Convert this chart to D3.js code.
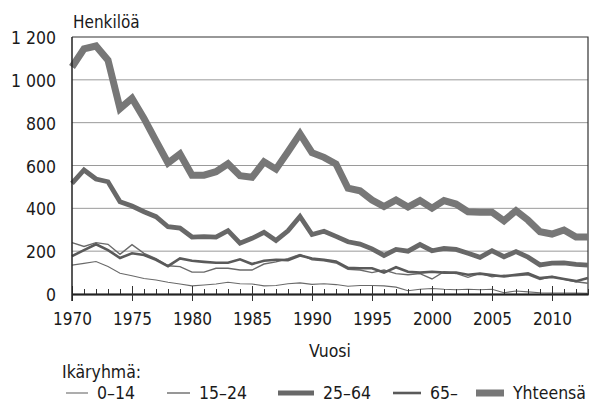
<!DOCTYPE html>
<html lang="fi">
<head>
<meta charset="utf-8">
<script src="https://d3js.org/d3.v7.min.js"></script>
<style>
  body { margin: 0; background: #fff; }
  svg text { font-family: "DejaVu Sans Condensed", "Liberation Sans Narrow", sans-serif; fill: #1a1a1a; }
</style>
</head>
<body>
<script>
// vuodet 1970-2013
var years = d3.range(1970, 2014);

var age0_14 = [135, 143, 152, 128, 97, 85, 72, 65, 55, 47,
               38, 42, 47, 55, 48, 47, 38, 40, 48, 52,
               45, 48, 44, 36, 40, 40, 38, 32, 15, 22,
               26, 22, 20, 22, 20, 22, 6, 14, 10, 6,
               5, 5, 4, 3];
var age15_24 = [240, 222, 240, 232, 185, 230, 190, 165, 132, 128,
                102, 102, 120, 120, 112, 112, 140, 150, 165, 185,
                160, 155, 145, 115, 112, 100, 112, 95, 90, 95,
                70, 104, 96, 78, 96, 80, 88, 85, 90, 68,
                82, 68, 57, 50];
var age25_64 = [517, 579, 537, 524, 431, 411, 384, 361, 314, 308,
                266, 268, 266, 296, 237, 260, 288, 250, 295, 362,
                278, 293, 269, 244, 233, 211, 180, 208, 200, 231,
                202, 213, 208, 190, 171, 202, 174, 198, 172, 136,
                144, 145, 138, 135];
var age65 = [177, 205, 232, 205, 168, 190, 182, 160, 130, 166,
             155, 150, 146, 146, 162, 140, 155, 160, 158, 180,
             166, 160, 152, 122, 120, 120, 100, 125, 104, 100,
             104, 100, 100, 90, 95, 88, 82, 90, 96, 74,
             80, 70, 60, 75];
var total = [1060, 1145, 1158, 1092, 866, 914, 820, 715, 612, 654,
             555, 555, 571, 608, 552, 545, 617, 583, 664, 748,
             660, 638, 607, 494, 482, 439, 408, 439, 406, 436,
             401, 436, 420, 384, 382, 382, 342, 389, 345, 291,
             280, 299, 266, 266];

var yTicks = [0, 200, 400, 600, 800, 1000, 1200];
var xMajor = [1970, 1975, 1980, 1985, 1990, 1995, 2000, 2005, 2010];
var seriesNames = ["0–14", "15–24", "25–64", "65–", "Yhteensä"];

var width = 589, height = 404;
var plotL = 72, plotR = 588, plotT = 37, plotB = 294;

var svg = d3.select("body").append("svg")
    .attr("width", width)
    .attr("height", height);

var x = d3.scaleLinear().domain([1970, 2013]).range([plotL, plotR]);
var y = d3.scaleLinear().domain([0, 1200]).range([plotB, plotT]);

var styles = [
  {w: 1.1, c: "#6a6a6a"},
  {w: 1.4, c: "#6a6a6a"},
  {w: 4.8, c: "#686868"},
  {w: 2.6, c: "#5a5a5a"},
  {w: 7, c: "#777777"}
];
var allSeries = [age0_14, age15_24, age25_64, age65, total];

// gridlines
svg.append("g").selectAll("line")
    .data(yTicks.filter(function(d) { return d > 0 && d < 1200; }))
    .enter().append("line")
    .attr("x1", plotL).attr("x2", plotR)
    .attr("y1", function(d) { return y(d); })
    .attr("y2", function(d) { return y(d); })
    .attr("stroke", "#9a9a9a").attr("stroke-width", 1);

// frame top + right
svg.append("path")
    .attr("d", "M" + plotL + "," + y(1200) + "H" + plotR + "V" + plotB)
    .attr("fill", "none").attr("stroke", "#333").attr("stroke-width", 1.2);

// y labels
var fmt = function(d) { return d >= 1000 ? d3.format(",")(d).replace(",", "\u00a0") : String(d); };
svg.append("g").selectAll("text")
    .data(yTicks)
    .enter().append("text")
    .attr("x", 56)
    .attr("y", function(d) { return y(d) + 7; })
    .attr("text-anchor", "end")
    .attr("font-size", 17.5)
    .text(fmt);

svg.append("text")
    .attr("x", 73).attr("y", 28)
    .attr("font-size", 17)
    .text("Henkilöä");

// series
var line = d3.line()
    .x(function(d, i) { return x(years[i]); })
    .y(function(d) { return y(d); });

svg.append("g").selectAll("path")
    .data(allSeries)
    .enter().append("path")
    .attr("d", line)
    .attr("fill", "none")
    .attr("stroke", function(d, i) { return styles[i].c; })
    .attr("stroke-width", function(d, i) { return styles[i].w; })
    .attr("stroke-linejoin", "miter");

// x axis: minor ticks up, major ticks both ways
var gx = svg.append("g").attr("transform", "translate(0," + plotB + ")");
gx.call(d3.axisBottom(x).tickValues(years).tickSizeInner(-5).tickSizeOuter(0).tickFormat(""));
gx.append("g").call(d3.axisBottom(x).tickValues(xMajor).tickSizeInner(-8).tickSizeOuter(0).tickFormat(""));
var gxl = gx.append("g").call(d3.axisBottom(x).tickValues(xMajor).tickSizeInner(7).tickSizeOuter(0).tickFormat(d3.format("d")));
gx.selectAll(".domain").attr("stroke", "#222").attr("stroke-width", 1.5);
gx.selectAll(".tick line").attr("stroke", "#333");
gxl.selectAll("text").attr("font-size", 17).attr("y", 19).attr("dy", "0.71em")
    .style("font-family", "'DejaVu Sans Condensed', sans-serif").attr("fill", "#1a1a1a");

// y axis line
svg.append("line")
    .attr("x1", plotL).attr("x2", plotL)
    .attr("y1", plotT).attr("y2", plotB + 7)
    .attr("stroke", "#222").attr("stroke-width", 1.5);

svg.append("text")
    .attr("x", (plotL + plotR) / 2).attr("y", 357)
    .attr("text-anchor", "middle")
    .attr("font-size", 17.5)
    .text("Vuosi");

svg.append("text")
    .attr("x", 62).attr("y", 378)
    .attr("font-size", 17.5)
    .text("Ikäryhmä:");

// legend
var legX = [66, 167, 278, 393, 476];
var legW = [22, 23, 36, 28, 28];
var leg = svg.append("g").selectAll("g")
    .data(seriesNames)
    .enter().append("g");
leg.append("line")
    .attr("x1", function(d, i) { return legX[i]; })
    .attr("x2", function(d, i) { return legX[i] + legW[i]; })
    .attr("y1", 393).attr("y2", 393)
    .attr("stroke", function(d, i) { return styles[i].c; })
    .attr("stroke-width", function(d, i) { return styles[i].w; });
leg.append("text")
    .attr("x", function(d, i) { return legX[i] + legW[i] + 9; })
    .attr("y", 399)
    .attr("font-size", 17.5)
    .text(function(d) { return d; });
</script>
</body>
</html>
